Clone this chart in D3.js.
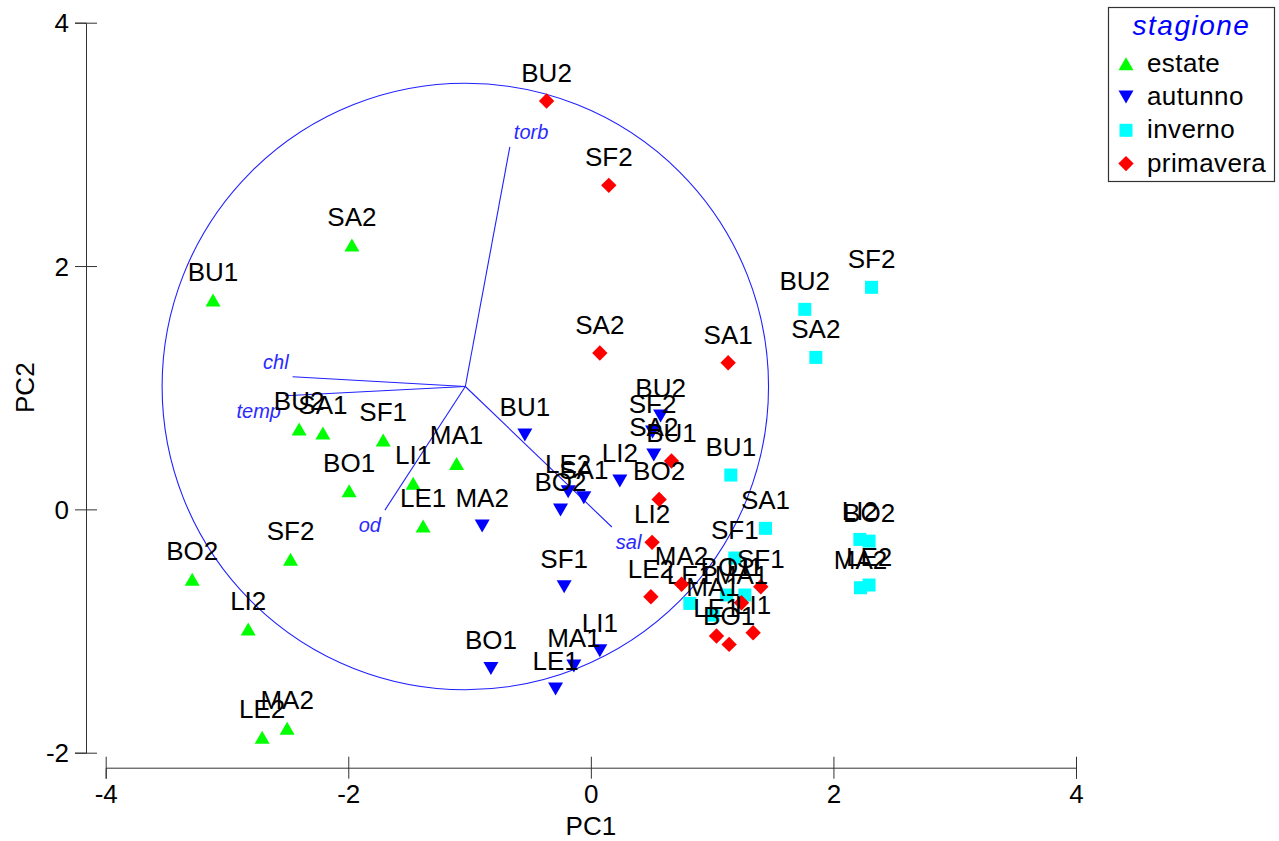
<!DOCTYPE html>
<html>
<head>
<meta charset="utf-8">
<script src="https://cdn.jsdelivr.net/npm/d3@7"></script>
<style>
  body { margin: 0; background: #fff; }
  text { font-family: "Liberation Sans", Arial, sans-serif; }
</style>
</head>
<body>
<div id="chart"></div>
<script>
// PCA scores per season: [site, PC1, PC2]
const estate = [
  ["BU1", -3.115, 1.720], ["BU2", -2.405, 0.660], ["SA1", -2.209, 0.627], ["SA2", -1.970, 2.172],
  ["SF1", -1.712, 0.570], ["SF2", -2.476, -0.411], ["BO1", -1.993, 0.153], ["BO2", -3.287, -0.575],
  ["LI1", -1.465, 0.214], ["LI2", -2.825, -0.984], ["MA1", -1.107, 0.378], ["MA2", -2.504, -1.800],
  ["LE1", -1.383, -0.137], ["LE2", -2.710, -1.874]
];
const autunno = [
  ["BU1", -0.544, 0.611], ["BU2", 0.575, 0.767], ["SA1", -0.058, 0.095], ["SA2", 0.519, 0.446],
  ["SF1", -0.220, -0.636], ["SF2", 0.509, 0.635], ["BO1", -0.824, -1.307], ["BO2", -0.250, -0.006],
  ["LI1", 0.074, -1.162], ["LI2", 0.239, 0.233], ["MA1", -0.140, -1.288], ["MA2", -0.896, -0.137],
  ["LE1", -0.291, -1.477], ["LE2", -0.187, 0.145]
];
const inverno = [
  ["BU1", 1.154, 0.282], ["BU2", 1.764, 1.644], ["SA1", 1.440, -0.156], ["SA2", 1.855, 1.249],
  ["SF1", 1.187, -0.400], ["SF2", 2.314, 1.825], ["BO1", 1.119, -0.704], ["BO2", 2.294, -0.261],
  ["LI1", 1.270, -0.704], ["LI2", 2.218, -0.247], ["MA1", 1.008, -0.869], ["MA2", 2.223, -0.644],
  ["LE1", 0.816, -0.773], ["LE2", 2.294, -0.622]
];
const primavera = [
  ["BU1", 0.665, 0.397], ["BU2", -0.365, 3.356], ["SA1", 1.132, 1.205], ["SA2", 0.074, 1.285],
  ["SF1", 1.401, -0.636], ["SF2", 0.148, 2.663], ["BO1", 1.140, -1.110], ["BO2", 0.563, 0.082],
  ["LI1", 1.338, -1.014], ["LI2", 0.505, -0.271], ["MA1", 1.242, -0.768], ["MA2", 0.748, -0.616],
  ["LE1", 1.036, -1.041], ["LE2", 0.495, -0.718]
];

const seasons = ["estate", "autunno", "inverno", "primavera"];
const seasonColors = ["#00ff00", "#0000ff", "#00ffff", "#ff0000"];
const seasonShapes = ["up", "down", "square", "diamond"];

// variable loadings (arrow tips) and correlation circle
const varNames = ["torb", "chl", "temp", "od", "sal"];
const varX = [-0.668, -2.459, -2.522, -1.698, 0.173];
const varY = [2.979, 1.090, 0.934, -0.006, -0.145];
const circleCenter = [-1.035, 1.01];
const circleRadius = 2.5;

const xTicks = [-4, -2, 0, 2, 4];
const yTicks = [-2, 0, 2, 4];

const width = 1279, height = 841;

var svg = d3.select("#chart").append("svg")
    .attr("width", width)
    .attr("height", height);

var x = d3.scaleLinear().domain([-4, 4]).range([105.7, 1076]);
var y = d3.scaleLinear().domain([-2, 4]).range([752.7, 22.7]);

// plain hyphen minus like the original
var tickFmt = d => String(d);

// x axis
var xAxis = svg.append("g")
    .attr("transform", "translate(0,767.7)")
    .call(d3.axisBottom(x).tickValues(xTicks).tickSizeOuter(0).tickSize(11).tickFormat(tickFmt));
xAxis.select(".domain").attr("stroke", "#333");
xAxis.selectAll(".tick line").attr("y1", -11).attr("y2", 11).attr("stroke", "#333");
xAxis.selectAll(".tick text")
    .attr("y", 35).attr("dy", 0)
    .attr("font-size", 26).attr("fill", "#000")
    .style("font-family", "'Liberation Sans', Arial, sans-serif");

// y axis
var yAxis = svg.append("g")
    .attr("transform", "translate(86,0)")
    .call(d3.axisLeft(y).tickValues(yTicks).tickSizeOuter(0).tickSize(11).tickFormat(tickFmt));
yAxis.select(".domain").attr("stroke", "#333");
yAxis.selectAll(".tick line").attr("x1", -11).attr("x2", 11).attr("stroke", "#333");
yAxis.selectAll(".tick text")
    .attr("x", -17).attr("dy", "0.35em")
    .attr("font-size", 26).attr("fill", "#000")
    .style("font-family", "'Liberation Sans', Arial, sans-serif");

svg.append("text")
    .attr("x", (x(-4) + x(4)) / 2).attr("y", 835)
    .attr("text-anchor", "middle").attr("font-size", 26)
    .text("PC1");
svg.append("text")
    .attr("transform", "translate(34," + (y(-2) + y(4)) / 2 + ") rotate(-90)")
    .attr("text-anchor", "middle").attr("font-size", 26)
    .text("PC2");

// correlation circle + arrows
var biplot = svg.append("g");
biplot.append("circle")
    .attr("cx", x(circleCenter[0]))
    .attr("cy", y(circleCenter[1]))
    .attr("r", x(circleCenter[0] + circleRadius) - x(circleCenter[0]))
    .attr("fill", "none")
    .attr("stroke", "#2020ff")
    .attr("stroke-width", 1.1);

var vars = varNames.map(function(d, i) {
    return { name: d, x: varX[i], y: varY[i] };
});

biplot.selectAll("line.vec")
    .data(vars)
    .enter().append("line")
    .attr("class", "vec")
    .attr("x1", x(circleCenter[0])).attr("y1", y(circleCenter[1]))
    .attr("x2", d => x(d.x)).attr("y2", d => y(d.y))
    .attr("stroke", "#2020ff")
    .attr("stroke-width", 1.1);

biplot.selectAll("text.vec")
    .data(vars)
    .enter().append("text")
    .attr("class", "vec")
    .attr("x", d => x(d.x) + (d.x > circleCenter[0] ? 4 : -4))
    .attr("y", d => y(d.y) + (d.y > circleCenter[1] ? -8 : 22))
    .attr("text-anchor", d => d.x > circleCenter[0] ? "start" : "end")
    .attr("font-size", 20)
    .attr("font-style", "italic")
    .attr("fill", "#2a2aff")
    .text(d => d.name);

// marker shapes
function shapePath(shape) {
    if (shape == "up") return "M0,-6.5L7.5,6.5L-7.5,6.5Z";
    if (shape == "down") return "M0,6.5L7.5,-6.5L-7.5,-6.5Z";
    if (shape == "square") return "M-6.5,-6.5H6.5V6.5H-6.5Z";
    return "M0,-7.7L7.7,0L0,7.7L-7.7,0Z";
}

var groups = [estate, autunno, inverno, primavera];

groups.forEach(function(rows, gi) {
    var g = svg.append("g").attr("class", "season-" + seasons[gi]);
    g.selectAll("path")
        .data(rows)
        .enter().append("path")
        .attr("transform", d => "translate(" + x(d[1]) + "," + y(d[2]) + ")")
        .attr("d", shapePath(seasonShapes[gi]))
        .attr("fill", seasonColors[gi]);
    g.selectAll("text")
        .data(rows)
        .enter().append("text")
        .attr("x", d => x(d[1]))
        .attr("y", d => y(d[2]) - 19)
        .attr("text-anchor", "middle")
        .attr("font-size", 26)
        .attr("fill", "#000")
        .text(d => d[0]);
});

// legend
var legend = svg.append("g");
legend.append("rect")
    .attr("x", 1108.5).attr("y", 7.5)
    .attr("width", 166).attr("height", 174)
    .attr("fill", "#fff")
    .attr("stroke", "#333")
    .attr("stroke-width", 1.2);
legend.append("text")
    .attr("x", 1191.5).attr("y", 35)
    .attr("text-anchor", "middle")
    .attr("font-size", 28)
    .attr("font-style", "italic")
    .attr("letter-spacing", 1.5)
    .attr("fill", "#0000ff")
    .text("stagione");

var item = legend.selectAll("g.item")
    .data(seasons)
    .enter().append("g")
    .attr("class", "item")
    .attr("transform", (d, i) => "translate(0," + (71.7 + i * 33.3) + ")");
item.append("path")
    .attr("transform", "translate(1126,-8)")
    .attr("d", (d, i) => shapePath(seasonShapes[i]))
    .attr("fill", (d, i) => seasonColors[i]);
item.append("text")
    .attr("x", 1147).attr("y", 0)
    .attr("font-size", 26)
    .attr("letter-spacing", 0.4)
    .attr("fill", "#000")
    .text(d => d);
</script>
</body>
</html>
